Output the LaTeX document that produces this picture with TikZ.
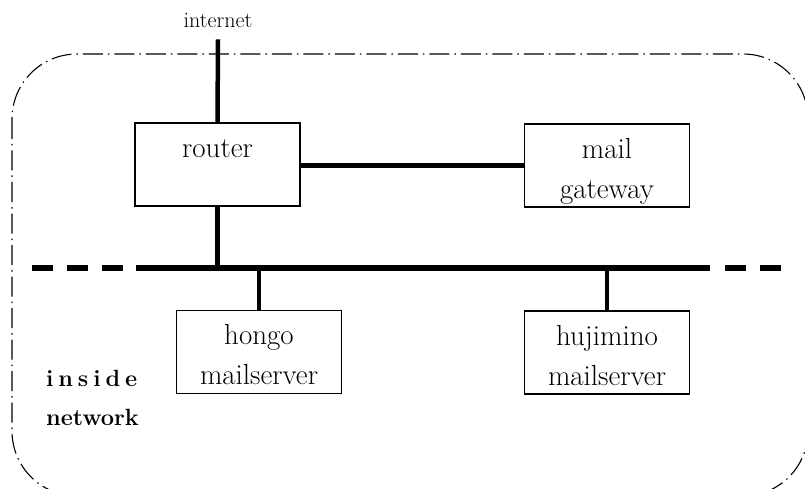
\documentclass[tikz,border=0pt]{standalone}
\usepackage{fontspec}
\usetikzlibrary{calc}
\newcommand{\twolines}[2]{\raisebox{-11pt}[0pt][0pt]{\begin{tabular}{@{}c@{}}#1\\#2\end{tabular}}}
\begin{document}
\begin{tikzpicture}[x=1pt,y=-1pt,
  boxnode/.style={draw,line width=1.3pt,minimum width=165pt,minimum height=83pt,inner sep=0pt,align=center,font=\fontsize{29}{40}\selectfont},
  wire/.style={line width=4.5pt},
  buswire/.style={line width=5.5pt},
  boundary/.style={line width=1.1pt,dash pattern=on 20pt off 5pt on 1.5pt off 5pt,rounded corners=65pt}]
\useasboundingbox (0,0) rectangle (805,489);
% boundary
\draw[boundary] (12,54) rectangle (808,496);
% nodes
\node[font=\fontsize{22}{26}\selectfont,inner sep=0pt] (internet) at (218,20) {internet};
\node[boxnode] (router) at (217.5,164.5) {\twolines{router}{\phantom{gateway}}};
\node[boxnode] (gw) at (607,165.5) {\twolines{mail}{gateway}};
\node[boxnode] (hongo) at (259,352) {\twolines{hongo}{mailserver}};
\node[boxnode] (huji) at (607,352.5) {\twolines{hujimino}{mailserver}};
\node[anchor=west,inner sep=0pt,font=\bfseries\fontsize{23.5}{28}\selectfont] (inside) at (46,378) {\makebox[91pt][s]{i\hfill n\hfill s\hfill i\hfill d\hfill e}};
\node[anchor=west,inner sep=0pt,font=\bfseries\fontsize{23.5}{28}\selectfont] (network) at (46,417) {network};
% bus coordinates
\coordinate (busL) at (32,268);
\coordinate (busA) at (136,268);
\coordinate (busB) at (710,268);
\coordinate (busC) at (725,268);
\coordinate (busR) at (782,268);
% connectors
\draw[wire] ([yshift=-12pt]internet.south) -- (router.north);
\draw[wire] (router.east |- gw.west) -- (gw.west);
\draw[wire] (router.south) -- (router.south |- busA);
\draw[buswire,dash pattern=on 21pt off 14pt] (busL) -- (busA);
\draw[buswire] (busA) -- (busB);
\draw[buswire,dash pattern=on 21pt off 14pt] (busC) -- (busR);
\draw[wire] (hongo.north) -- (hongo.north |- busA);
\draw[wire] (huji.north) -- (huji.north |- busA);
\end{tikzpicture}
\end{document}
